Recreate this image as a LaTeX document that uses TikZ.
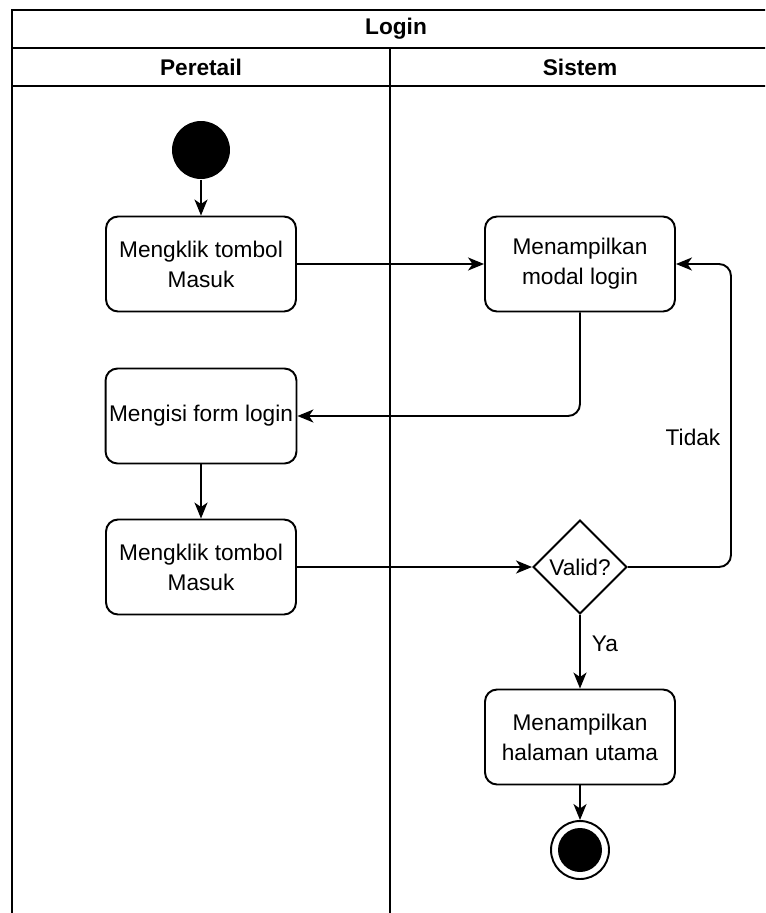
\documentclass[tikz,border=0pt]{standalone}
\usepackage{fontspec}
\setmainfont{Liberation Sans}
\usetikzlibrary{shapes.geometric,arrows.meta}

\begin{document}
\begin{tikzpicture}[x=0.02cm, y=-0.02cm, line width=1.1pt,
    every node/.style={font=\fontsize{12.9}{17}\selectfont},
    act/.style={draw, rounded corners=0.24cm, minimum width=3.8cm, minimum height=1.9cm, align=center, inner sep=2pt},
    dec/.style={draw, diamond, minimum width=1.88cm, minimum height=1.88cm, inner sep=0pt},
    flow/.style={-{Stealth[length=0.32cm,width=0.26cm,inset=0.09cm]}, rounded corners=0.24cm},
    lane/.style={font=\bfseries\fontsize{12.9}{17}\selectfont}]
        \clip (0,0) rectangle (765,913);
        % swimlane frame
        \draw (780,10) -- (12,10) -- (12,930);
        \draw (12,48) -- (780,48);
        \draw (12,86) -- (780,86);
        \draw (390,48) -- (390,930);
        \node[lane] (judul) at (396,29) {Login};
        \node[lane] (peretail) at (201,67) {Peretail};
        \node[lane] (sistem) at (580,67) {Sistem};
        % aktivitas
        \node[circle, fill, minimum size=1.16cm, inner sep=0pt] (mulai) at (201,150) {};
        \node[act] (klik) at (201,264) {Mengklik tombol\\Masuk};
        \node[act] (tampil) at (580,264) {Menampilkan\\modal login};
        \node[act] (isi) at (201,416) {Mengisi form login};
        \node[act] (masuk) at (201,567) {Mengklik tombol\\Masuk};
        \node[dec] (valid) at (580,567) {Valid?};
        \node[act] (utama) at (580,737) {Menampilkan\\halaman utama};
        \node[circle, draw, minimum size=1.16cm, inner sep=0pt] (selesai) at (580,850) {};
        \fill (selesai) circle (0.44cm);
        \coordinate (putar) at (731,416);
        % alur
        \draw[flow] (mulai) -- (klik);
        \draw[flow] (klik) -- (tampil);
        \draw[flow] (tampil.south) |- (isi.east);
        \draw[flow] (isi) -- (masuk);
        \draw[flow] (masuk) -- (valid);
        \draw[flow] (valid.east) -| (putar) |- (tampil.east);
        \draw[flow] (valid) -- (utama);
        \draw[flow] (utama) -- (selesai);
        \node (tidak) at (693,437) {Tidak};
        \node (ya) at (605,644) {Ya};
    \end{tikzpicture}
\end{document}
